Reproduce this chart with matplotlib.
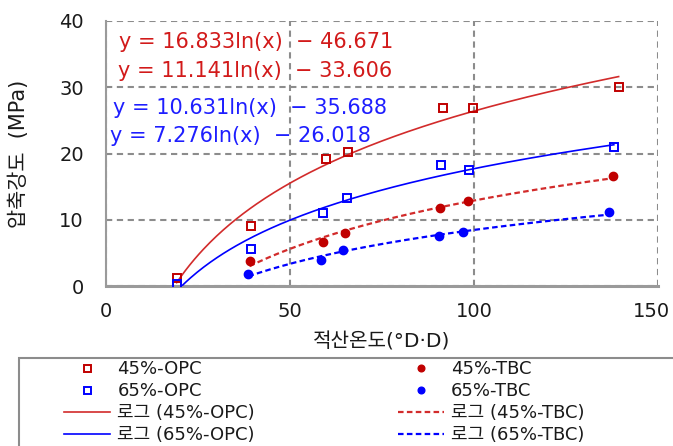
import numpy as np
import matplotlib
matplotlib.use("Agg")
import matplotlib.pyplot as plt
from matplotlib.patches import Rectangle
from matplotlib.transforms import ScaledTranslation

plt.rcParams['font.family'] = ['DejaVu Sans', 'Noto Sans CJK KR']

# ---------------- data ----------------
x_45_opc = [19.2, 39.3, 59.8, 65.8, 91.5, 99.6, 139.3]
y_45_opc = [1.2, 9.1, 19.2, 20.3, 26.8, 26.8, 30.0]
x_65_opc = [19.4, 39.3, 59.1, 65.4, 91.0, 98.7, 138.0]
y_65_opc = [0.3, 5.6, 11.0, 13.3, 18.2, 17.5, 21.0]
x_45_tbc = [39.0, 59.1, 64.9, 90.8, 98.4, 137.7]
y_45_tbc = [3.7, 6.6, 8.0, 11.8, 12.9, 16.6]
x_65_tbc = [38.7, 58.4, 64.3, 90.6, 96.9, 136.6]
y_65_tbc = [1.8, 3.9, 5.5, 7.5, 8.1, 11.1]

series_names = ['45%-OPC', '65%-OPC', '45%-TBC', '65%-TBC']
trend_names = ['로그 (45%-OPC)', '로그 (65%-OPC)', '로그 (45%-TBC)', '로그 (65%-TBC)']
equations = ['y = 16.833ln(x)  − 46.671',
             'y = 11.141ln(x)  − 33.606',
             'y = 10.631ln(x)  − 35.688',
             'y = 7.276ln(x)  − 26.018']
x_ticks = [0, 50, 100, 150]
y_ticks = [0, 10, 20, 30, 40]
x_label = '적산온도(°D·D)'
y_label = '압축강도  (MPa)'

RED = '#C00000'
RED_LINE = '#D22B2B'
BLUE = '#0000FF'
GRID = '#8C8C8C'
TXT = '#1a1a1a'

fig = plt.figure(figsize=(6.73, 4.46), dpi=100)
W, H = 673, 446
ax = fig.add_axes([106 / W, 1 - 286 / H, 552 / W, 265 / H])
ax.set_xlim(0, 150)
ax.set_ylim(0, 40)
ax.set_xticks(x_ticks)
ax.set_yticks(y_ticks)
ax.tick_params(axis='both', length=0, labelsize=14, colors=TXT)
ax.tick_params(axis='y', pad=16)
ax.tick_params(axis='x', pad=11.5)

ax.grid(True, color=GRID, linestyle=(0, (3, 2.2)), linewidth=1.5)
ax.set_axisbelow(True)
for s in ['top', 'right']:
    ax.spines[s].set_visible(False)
ax.spines['left'].set_color('#9a9a9a')
ax.spines['left'].set_linewidth(1.5)
ax.spines['bottom'].set_color('#9a9a9a')
ax.spines['bottom'].set_linewidth(2.2)


def trend(x, y):
    x = np.asarray(x, float)
    y = np.asarray(y, float)
    a, b = np.polyfit(np.log(x), y, 1)
    xx = np.linspace(x.min(), x.max(), 200)
    return xx, a * np.log(xx) + b


h1, = ax.plot(x_45_opc, y_45_opc, ls='none', marker='s', ms=6.3, mfc='none',
              mec=RED, mew=1.4, zorder=4, label=series_names[0])
h2, = ax.plot(x_65_opc, y_65_opc, ls='none', marker='s', ms=6.3, mfc='none',
              mec=BLUE, mew=1.4, zorder=4, label=series_names[1])
h3, = ax.plot(x_45_tbc, y_45_tbc, ls='none', marker='o', ms=6, mfc=RED,
              mec=RED, zorder=4, label=series_names[2])
h4, = ax.plot(x_65_tbc, y_65_tbc, ls='none', marker='o', ms=6, mfc=BLUE,
              mec=BLUE, zorder=4, label=series_names[3])

xx, yy = trend(x_45_opc, y_45_opc)
t1, = ax.plot(xx, yy, color=RED_LINE, lw=1.2, zorder=3, label=trend_names[0])
xx, yy = trend(x_65_opc, y_65_opc)
t2, = ax.plot(xx, yy, color=BLUE, lw=1.2, zorder=3, label=trend_names[1])
xx, yy = trend(x_45_tbc, y_45_tbc)
t3, = ax.plot(xx, yy, color=RED_LINE, lw=1.6, ls=(0, (2.5, 1.5)), zorder=3,
              label=trend_names[2])
xx, yy = trend(x_65_tbc, y_65_tbc)
t4, = ax.plot(xx, yy, color=BLUE, lw=1.6, ls=(0, (2.5, 1.5)), zorder=3,
              label=trend_names[3])

# equations
eq_pos = [(3.6, 36.8), (3.2, 32.5), (1.8, 26.9), (1.2, 22.6)]
eq_col = ['#D21A1A', '#D21A1A', '#1E1EFF', '#1E1EFF']
for (ex, ey), s, c in zip(eq_pos, equations, eq_col):
    ax.text(ex, ey, s, color=c, fontsize=15, ha='left', va='center', zorder=5)

# shift the last x tick label slightly left so it stays inside the figure
fig.canvas.draw()
last = ax.get_xticklabels()[-1]
last.set_transform(last.get_transform() + ScaledTranslation(-7 / 100, 0, fig.dpi_scale_trans))

ax.set_xlabel(x_label, fontsize=14.5, color=TXT)
ax.xaxis.set_label_coords(0.5, -(341.7 - 286) / 265)
ax.xaxis.label.set_va('center')
ax.set_ylabel(y_label, fontsize=15, color=TXT)
ax.yaxis.set_label_coords(-(106 - 19) / 552, 0.5)
ax.yaxis.label.set_va('center')

# legend
handles = [h1, h2, t1, t2, h3, h4, t3, t4]
labels = [h.get_label() for h in handles]
leg = fig.legend(handles, labels, ncol=2, loc='upper left',
                 bbox_to_anchor=(64 / W, 1 - 360 / H), borderaxespad=0,
                 borderpad=0, frameon=False, fontsize=13, handlelength=2.55,
                 handletextpad=0.4, columnspacing=7.9, labelspacing=0.22,
                 markerscale=0.8, numpoints=1)
for t in leg.get_texts():
    t.set_color(TXT)
fig.add_artist(Rectangle((19 / W, -0.05), 1.0, (1 - 358 / H) + 0.05,
                         transform=fig.transFigure, fill=False,
                         edgecolor='#8c8c8c', lw=1.5, clip_on=False))

fig.savefig('out.png', dpi=100)
